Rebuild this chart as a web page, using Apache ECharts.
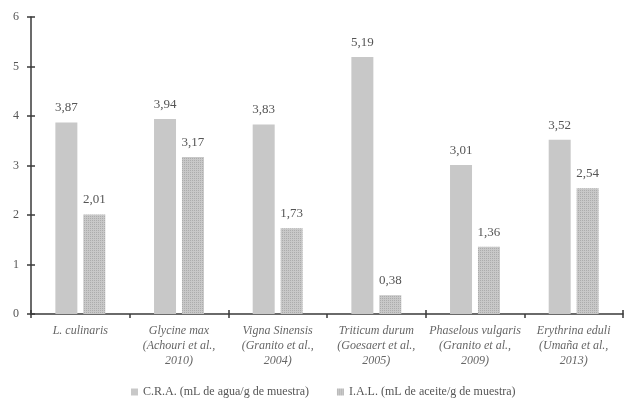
<!DOCTYPE html>
<html>
<head>
<meta charset="utf-8">
<script src="https://cdn.jsdelivr.net/npm/echarts@6/dist/echarts.min.js"></script>
<style>
  html, body { margin: 0; padding: 0; background: #fff; }
  #chart { width: 624px; height: 398px; }
</style>
</head>
<body>
<div id="chart"></div>
<script>
const categories = [
  'L. culinaris',
  'Glycine max\n(Achouri et al.,\n2010)',
  'Vigna Sinensis\n(Granito et al.,\n2004)',
  'Triticum durum\n(Goesaert et al.,\n2005)',
  'Phaselous vulgaris\n(Granito et al.,\n2009)',
  'Erythrina eduli\n(Umaña et al.,\n2013)'
];
const craValues = [3.87, 3.94, 3.83, 5.19, 3.01, 3.52];
const ialValues = [2.01, 3.17, 1.73, 0.38, 1.36, 2.54];
const seriesNames = [
  'C.R.A. (mL de agua/g de muestra)',
  'I.A.L. (mL de aceite/g de muestra)'
];

// fine stippled fill for the second series
function dotPattern() {
  const c = document.createElement('canvas');
  c.width = 2; c.height = 2;
  const g = c.getContext('2d');
  g.fillStyle = '#c8c8c8';
  g.fillRect(0, 0, 2, 2);
  g.fillStyle = '#acacac';
  g.fillRect(0, 0, 1, 1);
  return c;
}

const serif = '"Liberation Serif", "DejaVu Serif", serif';
const fmt = p => p.value.toFixed(2).replace('.', ',');

const chart = echarts.init(document.getElementById('chart'), null, { renderer: 'canvas' });
const axisColor = '#3a3a3a';

chart.setOption({
  animation: false,
  backgroundColor: '#ffffff',
  grid: { left: 31, right: 1, top: 17, bottom: 84 },
  legend: {
    left: 126,
    top: 381,
    icon: 'rect',
    itemWidth: 7,
    itemHeight: 7,
    itemGap: 28,
    textStyle: { fontFamily: serif, fontSize: 12, color: '#555' },
    data: seriesNames
  },
  xAxis: [{
    type: 'category',
    data: categories,
    axisLine: { lineStyle: { color: axisColor, width: 1.5 } },
    axisTick: { show: true, length: 4, lineStyle: { color: axisColor, width: 1.5 } },
    axisLabel: {
      fontFamily: serif, fontStyle: 'italic', fontSize: 12,
      color: '#666', lineHeight: 15, margin: 9, interval: 0
    }
  }, {
    type: 'category',
    data: categories,
    position: 'bottom',
    axisLine: { show: false },
    axisTick: { show: true, inside: true, length: 4, lineStyle: { color: axisColor, width: 1.5 } },
    axisLabel: { show: false }
  }],
  yAxis: [{
    type: 'value',
    min: 0, max: 6, interval: 1,
    splitLine: { show: false },
    axisLine: { show: true, lineStyle: { color: axisColor, width: 1.5 } },
    axisTick: { show: true, length: 4, lineStyle: { color: axisColor, width: 1.5 } },
    axisLabel: { fontFamily: serif, fontSize: 12, color: '#555', margin: 12 }
  }, {
    type: 'value',
    min: 0, max: 6, interval: 1,
    position: 'left',
    splitLine: { show: false },
    axisLine: { show: false },
    axisTick: { show: true, inside: true, length: 4, lineStyle: { color: axisColor, width: 1.5 } },
    axisLabel: { show: false }
  }],
  series: [{
    name: seriesNames[0],
    type: 'bar',
    data: craValues,
    barWidth: 22,
    barGap: '27%',
    itemStyle: { color: '#c8c8c8' },
    label: {
      show: true, position: 'top', distance: 8, formatter: fmt,
      fontFamily: serif, fontSize: 13, color: '#555'
    }
  }, {
    name: seriesNames[1],
    type: 'bar',
    data: ialValues,
    barWidth: 22,
    barGap: '27%',
    itemStyle: { color: { image: dotPattern(), repeat: 'repeat' } },
    label: {
      show: true, position: 'top', distance: 8, formatter: fmt,
      fontFamily: serif, fontSize: 13, color: '#555'
    }
  }]
});
</script>
</body>
</html>
